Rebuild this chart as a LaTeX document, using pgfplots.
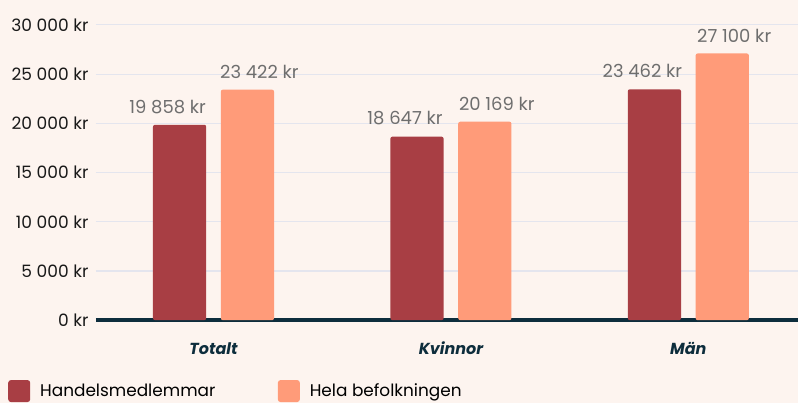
\documentclass[border=0pt]{standalone}
\usepackage{fontspec}
\setmainfont{Poppins}
\usepackage{pgfplots}
\pgfplotsset{compat=1.18}
\definecolor{Bg}{HTML}{FDF4EF}
\definecolor{Dark}{HTML}{A83E44}
\definecolor{Light}{HTML}{FF9B79}
\definecolor{Navy}{HTML}{0D2D3C}
\definecolor{Grid}{HTML}{E4E5EE}
\definecolor{Val}{HTML}{6E6E6E}
\begin{document}
\begin{tikzpicture}
\fill[Bg] (0,0) rectangle (600pt,303pt);
\begin{axis}[
  at={(72pt,62.25pt)},anchor=south west,
  scale only axis,width=528pt,height=222pt,
  xmin=-0.496,xmax=2.462,ymin=0,ymax=30000,
  clip=false,
  axis lines*=left,
  y axis line style={draw=none},
  x axis line style={-,line width=3pt,draw=Navy},
  major tick length=0pt,
  scaled y ticks=false,
  ymajorgrids,grid style={Grid,line width=0.8pt},
  ytick={0,5000,10000,15000,20000,25000,30000},
  yticklabels={0 kr,5 000 kr,10 000 kr,15 000 kr,20 000 kr,25 000 kr,30 000 kr},
  yticklabel style={font=\fontsize{12.8}{14}\selectfont,text=black!90,xshift=-2pt},
  xtick={0,1,2},
  xticklabels={Totalt,Kvinnor,Män},
  xticklabel style={font=\fontsize{12}{14}\selectfont\bfseries\itshape,text=Navy,yshift=-13pt},
  ybar,bar width=40pt,
  point meta=explicit symbolic,
  nodes near coords,
  nodes near coords style={font=\fontsize{13.5}{14}\selectfont,text=Val,yshift=5pt},
  legend columns=2,
  legend style={draw=none,fill=none,at={(rel axis cs:-0.125,-0.24)},anchor=west,inner sep=0pt,
    font=\fontsize{12.7}{14}\selectfont,
    /tikz/every odd column/.append style={column sep=5.5pt},
    /tikz/every even column/.append style={column sep=45pt}},
  legend image code/.code={\fill[#1,rounded corners=2pt] (0pt,-8.25pt) rectangle (16.5pt,8.25pt);},
]
\addplot[fill=Dark,draw=none,bar shift=-25.5pt,rounded corners=1.5pt,
  nodes near coords style={xshift=-9pt}] coordinates {(0,19858) [19 858 kr] (1,18647) [18 647 kr] (2,23462) [23 462 kr]};
\addlegendentry{Handelsmedlemmar}
\addplot[fill=Light,draw=none,bar shift=25.5pt,rounded corners=1.5pt,
  nodes near coords style={xshift=9pt}] coordinates {(0,23422) [23 422 kr] (1,20169) [20 169 kr] (2,27100) [27 100 kr]};
\addlegendentry{Hela befolkningen}
\end{axis}
\end{tikzpicture}
\end{document}
